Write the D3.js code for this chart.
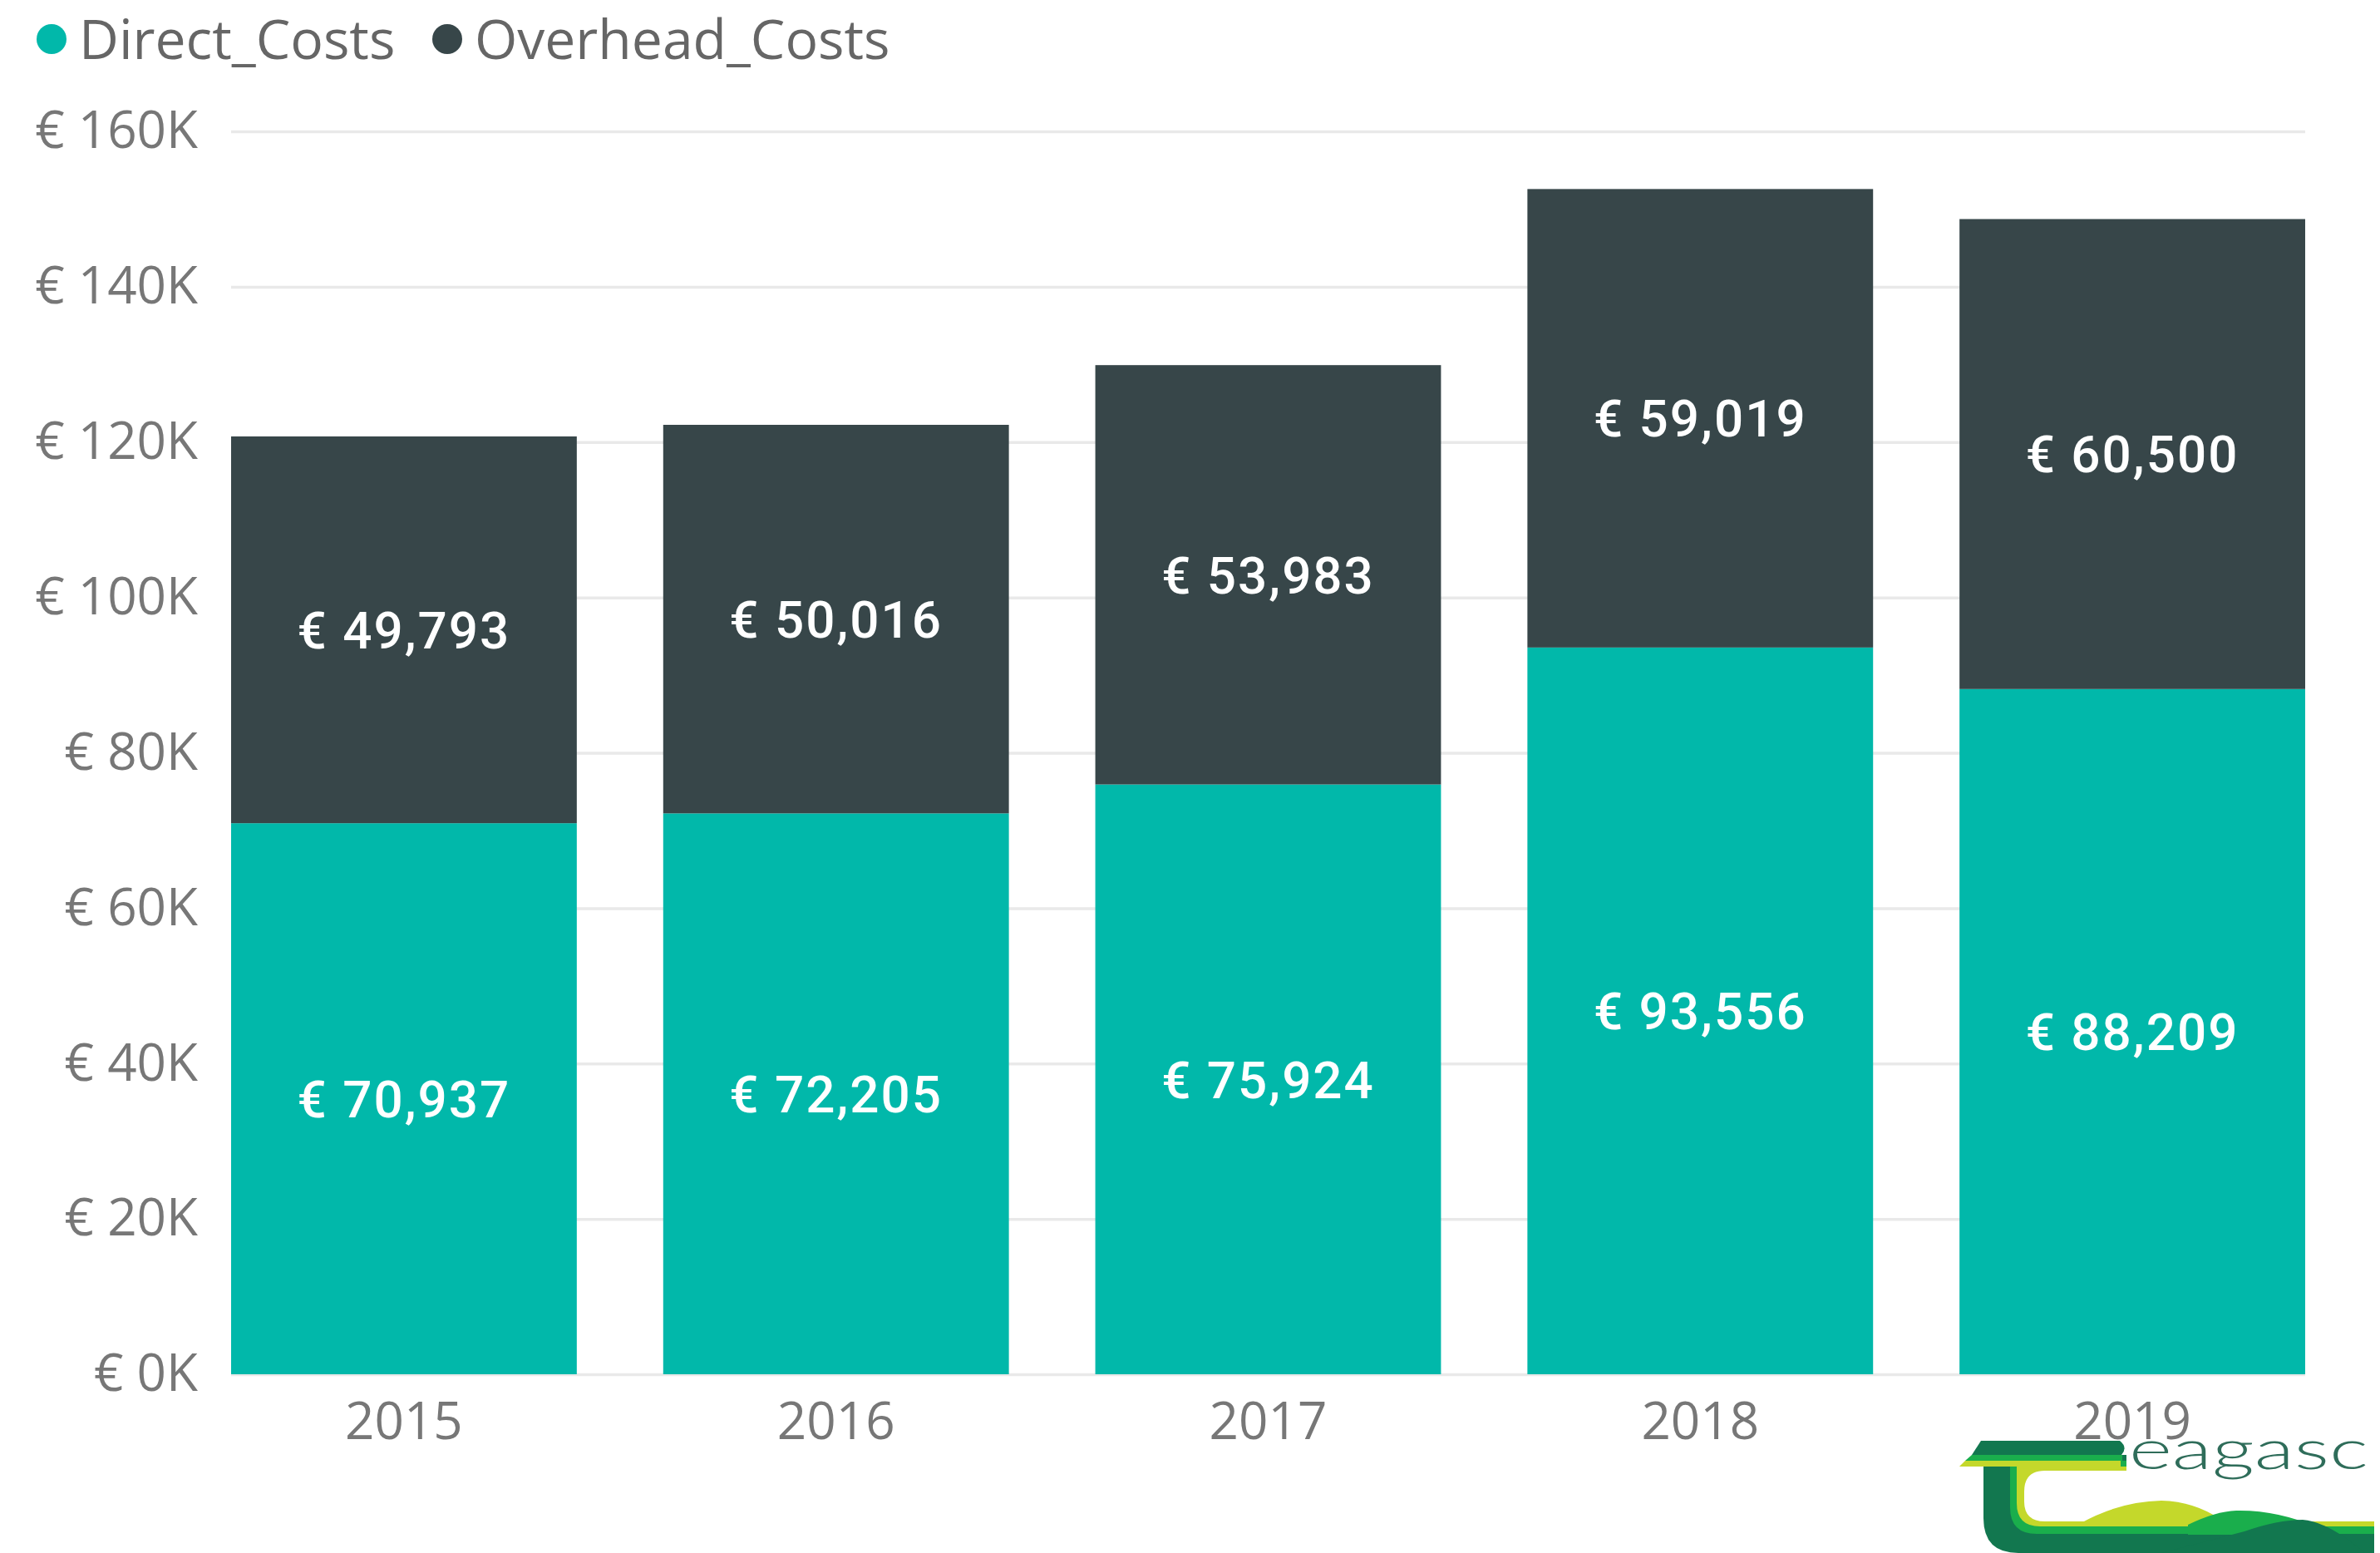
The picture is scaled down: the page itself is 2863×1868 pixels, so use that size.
<!DOCTYPE html>
<html>
<head>
<meta charset="utf-8">
<script src="https://cdnjs.cloudflare.com/ajax/libs/d3/7.8.5/d3.min.js"></script>
<style>
  body { margin: 0; background: #fff; }
  svg { display: block; }
</style>
</head>
<body>
<div id="chart"></div>
<script>
// data
var years = ["2015", "2016", "2017", "2018", "2019"];
var directCosts = [70937, 72205, 75924, 93556, 88209];
var overheadCosts = [49793, 50016, 53983, 59019, 60500];
var seriesNames = ["Direct_Costs", "Overhead_Costs"];
var yTicks = [0, 20000, 40000, 60000, 80000, 100000, 120000, 140000, 160000];

var colors = ["#01B8AA", "#374649"];

var svgWidth = 2863;
var svgHeight = 1868;

var plot = { left: 278, right: 2773, top: 158, bottom: 1653 };

var svg = d3.select("#chart")
  .append("svg")
  .attr("width", svgWidth)
  .attr("height", svgHeight);

// build rows for the stack
var rows = years.map(function(y, i) {
  return { year: y, Direct_Costs: directCosts[i], Overhead_Costs: overheadCosts[i] };
});
var stacked = d3.stack().keys(seriesNames)(rows);

var x = d3.scaleBand()
  .domain(years)
  .range([plot.left, plot.right])
  .paddingInner(0.2)
  .paddingOuter(0);

var y = d3.scaleLinear()
  .domain([0, 160000])
  .range([plot.bottom, plot.top]);

// gridlines + y labels
var yAxis = d3.axisLeft(y)
  .tickValues(yTicks)
  .tickSize(-(plot.right - plot.left))
  .tickPadding(40)
  .tickFormat(function(d) { return "€ " + d / 1000 + "K"; });

var yg = svg.append("g")
  .attr("transform", "translate(" + plot.left + ",0)")
  .call(yAxis);
yg.select(".domain").remove();
yg.selectAll(".tick line")
  .attr("stroke", "#e9e9e9")
  .attr("stroke-width", 3.5);
yg.selectAll(".tick text")
  .attr("fill", "#777")
  .attr("font-family", "'Open Sans', sans-serif")
  .attr("font-size", 62);

// teagasc logo, rough drawing (decoration, not data)
function drawLogo(g) {
  g.append("clipPath").attr("id", "logoclip")
    .append("rect").attr("x", 2356).attr("y", 1728).attr("width", 500).attr("height", 140);
  var lg = g.append("g").attr("clip-path", "url(#logoclip)");
  var dark = "#12774f", green = "#1aae4c", lime = "#c4d82b";
  lg.append("rect").attr("x", 2356).attr("y", 1728).attr("width", 500).attr("height", 140).attr("fill", "#fff");
  // the C under the bar, outer stripe first
  lg.append("path").attr("d", "M2386,1750 L2386,1826 Q2386,1868 2428,1868 L2863,1868 L2863,1750 Z").attr("fill", dark);
  lg.append("path").attr("d", "M2418,1757 L2418,1813 Q2418,1845 2450,1845 L2863,1845 L2863,1757 Z").attr("fill", green);
  lg.append("path").attr("d", "M2426,1764 L2426,1808 Q2426,1836 2454,1836 L2863,1836 L2863,1764 Z").attr("fill", lime);
  lg.append("path").attr("d", "M2435,1794 Q2435,1769 2460,1769 L2863,1769 L2863,1830 L2460,1830 Q2435,1830 2435,1806 Z").attr("fill", "#fff");
  lg.append("rect").attr("x", 2558).attr("y", 1728).attr("width", 310).attr("height", 41).attr("fill", "#fff");
  // top bar of the T, three stripes with a slanted left end
  lg.append("path").attr("d", "M2383,1733 L2550,1733 Q2560,1741 2552,1750 L2372,1750 Z").attr("fill", dark);
  lg.append("path").attr("d", "M2372,1750 L2553,1750 L2553,1757 L2364,1757 Z").attr("fill", green);
  lg.append("path").attr("d", "M2364,1757 L2551,1757 L2551,1764 L2357,1764 Z").attr("fill", lime);
  // hills
  lg.append("path").attr("d", "M2503,1832 Q2550,1806 2600,1805 Q2640,1806 2672,1828 L2672,1836 L2503,1836 Z").attr("fill", lime);
  lg.append("path").attr("d", "M2632,1834 Q2665,1818 2690,1817 Q2740,1816 2790,1838 L2790,1846 L2632,1846 Z").attr("fill", green);
  lg.append("path").attr("d", "M2700,1842 Q2740,1828 2770,1828 Q2800,1830 2845,1868 L2600,1868 Z").attr("fill", dark);
  lg.append("text")
    .attr("x", 2561).attr("y", 1767)
    .attr("textLength", 288)
    .attr("lengthAdjust", "spacingAndGlyphs")
    .attr("font-family", "Lato, sans-serif")
    .attr("font-weight", 300)
    .attr("font-size", 67)
    .attr("fill", "#2f6d5a")
    .text("eagasc");
}
drawLogo(svg.append("g"));

// x axis labels
var xAxis = d3.axisBottom(x).tickSize(0).tickPadding(34);
var xg = svg.append("g")
  .attr("transform", "translate(0," + plot.bottom + ")")
  .call(xAxis);
xg.select(".domain").remove();
xg.selectAll(".tick text")
  .attr("fill", "#777")
  .attr("font-family", "'Open Sans', sans-serif")
  .attr("font-size", 62);

// stacked bars
var layers = svg.selectAll(".layer")
  .data(stacked)
  .enter()
  .append("g")
  .attr("class", "layer")
  .attr("fill", function(d, i) { return colors[i]; });

layers.selectAll("rect")
  .data(function(d) { return d; })
  .enter()
  .append("rect")
  .attr("x", function(d) { return x(d.data.year); })
  .attr("y", function(d) { return y(d[1]); })
  .attr("width", x.bandwidth())
  .attr("height", function(d) { return y(d[0]) - y(d[1]); });

// value labels in the middle of each segment
layers.selectAll("text")
  .data(function(d) { return d; })
  .enter()
  .append("text")
  .attr("x", function(d) { return x(d.data.year) + x.bandwidth() / 2; })
  .attr("y", function(d) { return y((d[0] + d[1]) / 2); })
  .attr("dy", "0.36em")
  .attr("text-anchor", "middle")
  .attr("fill", "#fff")
  .attr("font-family", "Roboto, sans-serif")
  .attr("font-weight", 500)
  .attr("font-size", 62)
  .attr("letter-spacing", 2)
  .text(function(d) { return "€ " + d3.format(",")(d[1] - d[0]); });

// legend
var legend = svg.append("g");
var legendX = [62, 538];
seriesNames.forEach(function(name, i) {
  legend.append("circle")
    .attr("cx", legendX[i])
    .attr("cy", 47)
    .attr("r", 18)
    .attr("fill", colors[i]);
  legend.append("text")
    .attr("x", legendX[i] + 33)
    .attr("y", 71)
    .attr("fill", "#666")
    .attr("font-family", "'Open Sans', sans-serif")
    .attr("font-size", 66)
    .text(name);
});
</script>
</body>
</html>
